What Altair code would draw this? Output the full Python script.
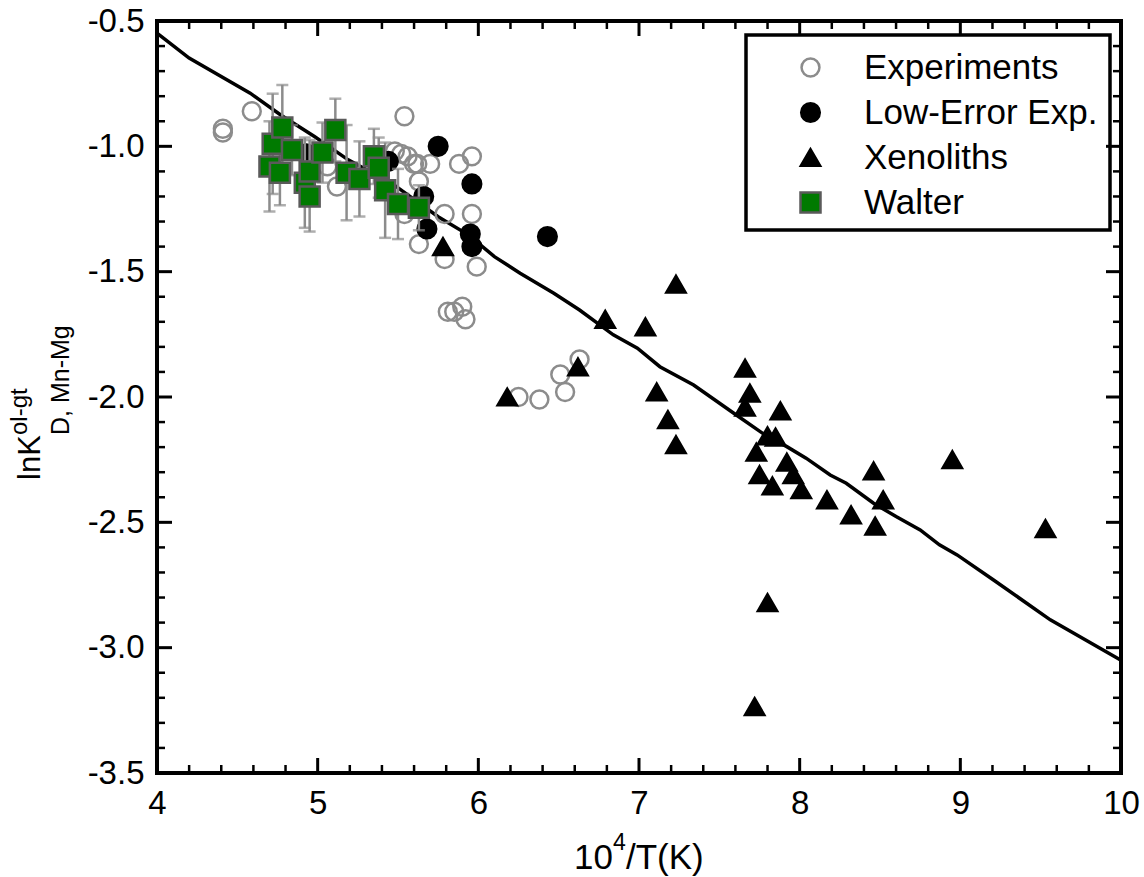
import altair as alt
import pandas as pd

# ---------------- data ----------------
exp_x = [4.59, 4.41, 4.41, 5.06, 5.12, 5.54, 5.48, 5.52, 5.56, 5.60, 5.62, 5.70, 5.88, 5.96,
         5.63, 5.54, 5.79, 5.96, 5.63, 5.79, 5.99, 5.81, 5.85, 5.90, 5.92, 6.25, 6.38, 6.51,
         6.54, 6.63]
exp_y = [-0.86, -0.93, -0.945, -1.08, -1.16, -0.88, -1.02, -1.03, -1.04, -1.07, -1.07, -1.07,
         -1.07, -1.04, -1.14, -1.27, -1.27, -1.27, -1.39, -1.45, -1.48, -1.66, -1.66, -1.64,
         -1.69, -2.00, -2.01, -1.91, -1.98, -1.85]

low_x = [4.93, 5.44, 5.75, 5.96, 5.66, 5.68, 5.95, 5.96, 6.43]
low_y = [-1.03, -1.06, -1.00, -1.15, -1.20, -1.33, -1.35, -1.40, -1.36]

xen_x = [5.78, 6.18, 6.62, 6.79, 7.04, 7.11, 7.18, 7.23, 7.23, 7.66, 7.69, 7.66, 7.88, 7.80,
         7.85, 7.73, 7.92, 7.75, 7.96, 7.83, 8.01, 8.17, 8.32, 8.46, 8.52, 8.47, 8.95, 9.53,
         7.80, 7.72]
xen_y = [-1.40, -2.00, -1.88, -1.69, -1.72, -1.98, -2.09, -2.19, -1.55, -1.885, -1.985, -2.04,
         -2.055, -2.155, -2.16, -2.22, -2.26, -2.31, -2.31, -2.355, -2.37, -2.41, -2.47, -2.295,
         -2.41, -2.515, -2.25, -2.525, -2.82, -3.235]

wal_x = [4.70, 4.72, 4.78, 4.765, 4.84, 4.92, 4.95, 4.95, 5.03, 5.11, 5.18, 5.26, 5.35, 5.38,
         5.42, 5.50, 5.63]
wal_y = [-1.08, -0.99, -0.925, -1.105, -1.015, -1.145, -1.10, -1.20, -1.025, -0.935, -1.105,
         -1.13, -1.04, -1.085, -1.175, -1.23, -1.245]
wal_err = [0.18, 0.20, 0.17, 0.13, 0.10, 0.18, 0.125, 0.14, 0.12, 0.125, 0.19, 0.15, 0.11,
           0.12, 0.19, 0.14, 0.09]

line_x = [4.0, 4.2, 4.58, 4.77, 4.98, 5.19, 5.46, 5.75, 5.94, 6.10, 6.26, 6.47, 6.63, 6.84,
          6.99, 7.13, 7.34, 7.59, 7.77, 7.92, 8.04, 8.19, 8.29, 8.46, 8.60, 8.75, 8.87, 8.98,
          9.20, 9.56, 10.0]
line_y = [-0.548, -0.648, -0.788, -0.875, -0.961, -1.054, -1.147, -1.281, -1.354, -1.44,
          -1.506, -1.586, -1.653, -1.752, -1.805, -1.879, -1.952, -2.065, -2.145, -2.198,
          -2.244, -2.311, -2.344, -2.424, -2.477, -2.53, -2.59, -2.63, -2.727, -2.889, -3.05]

series_names = ["Experiments", "Low-Error Exp.", "Xenoliths", "Walter"]

x_major = [4, 5, 6, 7, 8, 9, 10]
x_minor = [4.2, 4.4, 4.6, 4.8, 5.2, 5.4, 5.6, 5.8, 6.2, 6.4, 6.6, 6.8, 7.2, 7.4, 7.6, 7.8,
           8.2, 8.4, 8.6, 8.8, 9.2, 9.4, 9.6, 9.8]
y_major = [-3.5, -3.0, -2.5, -2.0, -1.5, -1.0, -0.5]
y_minor = [-3.4, -3.3, -3.2, -3.1, -2.9, -2.8, -2.7, -2.6, -2.4, -2.3, -2.2, -2.1,
           -1.9, -1.8, -1.7, -1.6, -1.4, -1.3, -1.2, -1.1, -0.9, -0.8, -0.7, -0.6]

# ---------------- tables ----------------
pts = pd.DataFrame({
    "x": exp_x + low_x + xen_x,
    "y": exp_y + low_y + xen_y,
    "series": [series_names[0]] * len(exp_x) + [series_names[1]] * len(low_x)
              + [series_names[2]] * len(xen_x),
})
wal = pd.DataFrame({
    "x": wal_x, "y": wal_y,
    "lo": [a - e for a, e in zip(wal_y, wal_err)],
    "hi": [a + e for a, e in zip(wal_y, wal_err)],
    "series": [series_names[3]] * len(wal_x),
})
line_df = pd.DataFrame({"x": line_x, "y": line_y})

W, H = 964, 752
FONT = "Liberation Sans"

xscale = alt.Scale(domain=[4, 10], nice=False, zero=False)
yscale = alt.Scale(domain=[-3.5, -0.5], nice=False, zero=False)

x_axis = alt.Axis(values=x_major, tickSize=0, domain=False, grid=False, labelFontSize=33,
                  labelPadding=14, labelColor="black", labelFont=FONT, title=None,
                  labelFlush=False)
y_axis = alt.Axis(values=y_major, tickSize=0, domain=False, grid=False, labelFontSize=33,
                  labelPadding=13, labelColor="black", labelFont=FONT, title=None,
                  labelExpr="datum.value < 0 ? '-' + format(-datum.value, '.1f') : format(datum.value, '.1f')")

legend = alt.Legend(title=None, orient="none", legendX=589, legendY=15,
                    padding=14, symbolOffset=33, labelOffset=36,
                    labelFontSize=35, labelFont=FONT, labelColor="black", labelLimit=500,
                    rowPadding=9, symbolStrokeWidth=2.5)

shape_enc = alt.Shape("series:N", scale=alt.Scale(domain=series_names,
                      range=["circle", "circle", "triangle-up", "square"]), legend=legend)
fill_enc = alt.Fill("series:N", scale=alt.Scale(domain=series_names,
                    range=["transparent", "black", "black", "#007a00"]))
stroke_enc = alt.Stroke("series:N", scale=alt.Scale(domain=series_names,
                        range=["#8c8c8c", "black", "black", "#5a5a5a"]))
size_enc = alt.Size("series:N", scale=alt.Scale(domain=series_names,
                    range=[320, 400, 560, 340]))

X = lambda f: alt.X(f, scale=xscale, axis=x_axis)
Y = lambda f: alt.Y(f, scale=yscale, axis=y_axis)

line = alt.Chart(line_df).mark_line(color="black", strokeWidth=3.5).encode(
    x=X("x:Q"), y=Y("y:Q"))

points = alt.Chart(pts).mark_point(opacity=1, strokeWidth=2.5).encode(
    x=X("x:Q"), y=Y("y:Q"),
    shape=shape_enc, fill=fill_enc, stroke=stroke_enc, size=size_enc,
)

errbars = alt.Chart(wal).mark_errorbar(ticks=True, size=12, thickness=2.5, color="#8c8c8c").encode(
    x=X("x:Q"), y=Y("lo:Q"), y2="hi:Q",
)

walter = alt.Chart(wal).mark_point(opacity=1, strokeWidth=2.5).encode(
    x=X("x:Q"), y=Y("y:Q"),
    shape=shape_enc, fill=fill_enc, stroke=stroke_enc, size=size_enc,
)

# ---- inward ticks on all four sides ----
def xticks(vals, y0, y1, w):
    return alt.Chart(pd.DataFrame({"v": vals})).mark_rule(color="black", strokeWidth=w).encode(
        x=X("v:Q"), y=alt.value(y0), y2=alt.value(y1))

def yticks(vals, x0, x1, w):
    return alt.Chart(pd.DataFrame({"v": vals})).mark_rule(color="black", strokeWidth=w).encode(
        y=Y("v:Q"), x=alt.value(x0), x2=alt.value(x1))

ticks = [
    xticks(x_major, H, H - 15, 3), xticks(x_minor, H, H - 8, 2.5),
    xticks(x_major, 0, 15, 3), xticks(x_minor, 0, 8, 2.5),
    yticks(y_major, 0, 15, 3), yticks(y_minor, 0, 8, 2.5),
    yticks(y_major, W, W - 15, 3), yticks(y_minor, W, W - 8, 2.5),
]

one = pd.DataFrame({"a": [0]})

frame = alt.Chart(one).mark_rect(fillOpacity=0, stroke="black", strokeWidth=4).encode(
    x=alt.value(0), x2=alt.value(W), y=alt.value(0), y2=alt.value(H))

legend_box = alt.Chart(one).mark_rect(fill="white", stroke="black", strokeWidth=3.5).encode(
    x=alt.value(589), x2=alt.value(953), y=alt.value(14), y2=alt.value(209))

# ---- axis titles (with super/subscripts) ----
def txt(s, x, y, size, angle=0, align="left", baseline="alphabetic"):
    kw = dict(fontSize=size, font=FONT, color="black", align=align, baseline=baseline)
    if angle:
        kw["angle"] = angle
    return alt.Chart(one).mark_text(**kw).encode(
        text=alt.value(s), x=alt.value(x), y=alt.value(y))

titles = [
    txt("10", 417, 848, 35),
    txt("4", 456, 829, 23),
    txt("/T(K)", 469, 848, 35),
    txt("lnK", -117, 459, 31, angle=270),
    txt("ol-gt", -130, 414, 24, angle=270),
    txt("D, Mn-Mg", -88, 414, 25, angle=270),
]

chart = alt.layer(line, legend_box, points, errbars, walter, *ticks, frame, *titles).properties(
    width=W, height=H,
    padding={"left": 157, "top": 21, "right": 23, "bottom": 104},
    autosize=alt.AutoSizeParams(type="none"),
).configure_view(strokeWidth=0).configure(font=FONT)

chart.save("out.html", embed_options={"renderer": "svg", "actions": False})
